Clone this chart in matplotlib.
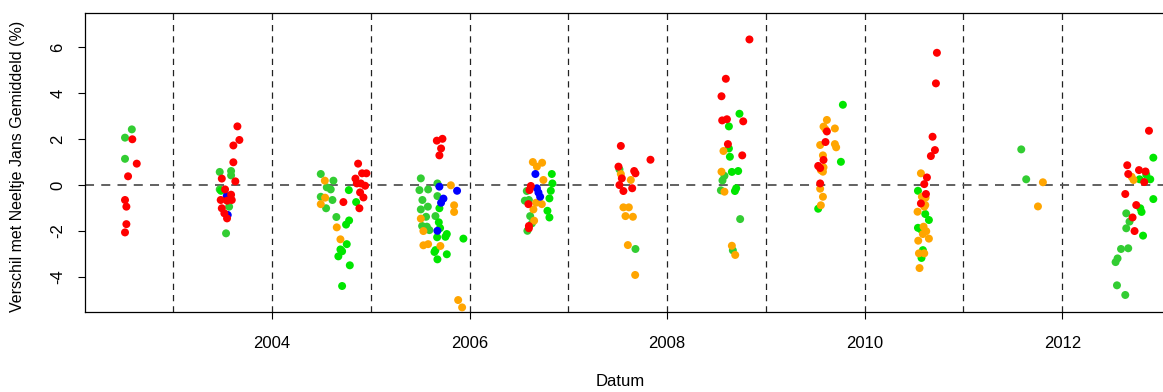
import matplotlib
matplotlib.use("Agg")
import matplotlib.pyplot as plt

plt.rcParams['font.family'] = ['Liberation Sans', 'DejaVu Sans']

# decimal year / difference in % per colour group
red_x = [2002.585, 2002.630, 2002.542, 2002.511, 2002.525, 2002.525, 2002.511,
         2003.649, 2003.669, 2003.608, 2003.608, 2003.491, 2003.628, 2003.524, 2003.585,
         2003.480, 2003.592, 2003.544, 2003.491, 2003.517, 2003.544,
         2004.871, 2004.911, 2004.955, 2004.844, 2004.858, 2004.898, 2004.942, 2004.891,
         2004.925, 2004.722, 2004.884,
         2005.668, 2005.725, 2005.711, 2005.694,
         2006.620, 2006.606, 2006.595, 2006.600, 2006.600,
         2007.531, 2007.831, 2007.507, 2007.666, 2007.679, 2007.541, 2007.517, 2007.646, 2007.557,
         2008.833, 2008.594, 2008.550, 2008.557, 2008.605, 2008.770, 2008.615, 2008.760,
         2009.617, 2009.603, 2009.583, 2009.529, 2009.549, 2009.549,
         2010.731, 2010.721, 2010.687, 2010.711, 2010.670, 2010.630, 2010.603, 2010.620, 2010.569,
         2012.878, 2012.658, 2012.668, 2012.777, 2012.843, 2012.830, 2012.638, 2012.749,
         2012.712, 2012.732]
red_y = [1.99, 0.93, 0.38, -0.65, -0.94, -1.70, -2.06,
         2.55, 1.96, 1.72, 0.99, 0.28, 0.16, -0.19, -0.42, -0.65, -0.65, -0.68, -1.01, -1.23, -1.45,
         0.93, 0.51, 0.51, 0.28, 0.07, 0.07, -0.03, -0.32, -0.54, -0.74, -1.01,
         1.93, 2.01, 1.59, 1.29,
         -0.04, -0.22, -0.83, -1.78, -1.88,
         1.70, 1.10, 0.80, 0.61, 0.51, 0.29, 0.00, -0.14, -0.26,
         6.33, 4.62, 3.86, 2.81, 2.86, 2.77, 1.78, 1.29,
         2.33, 1.87, 1.09, 0.83, 0.74, 0.07,
         5.75, 4.42, 2.10, 1.52, 1.26, 0.33, 0.04, -0.39, -0.80,
         2.36, 0.86, 0.48, 0.65, 0.59, 0.13, -0.39, -0.87, -1.41, -2.00]

orange_x = [2004.534, 2004.537, 2004.493, 2004.655, 2004.692,
            2005.810, 2005.843, 2005.843, 2005.506, 2005.532, 2005.532, 2005.580, 2005.704,
            2005.884, 2005.924,
            2006.640, 2006.681, 2006.734, 2006.747, 2006.673, 2006.731, 2006.646, 2006.653,
            2007.531, 2007.632, 2007.557, 2007.612, 2007.578, 2007.653, 2007.602, 2007.676,
            2008.570, 2008.550, 2008.580, 2008.655, 2008.689,
            2009.617, 2009.583, 2009.603, 2009.698, 2009.549, 2009.698, 2009.711, 2009.577,
            2009.583, 2009.577, 2009.556, 2009.549, 2009.577, 2009.556,
            2010.569, 2010.579, 2010.616, 2010.613, 2010.603, 2010.535, 2010.596, 2010.623,
            2010.589, 2010.650, 2010.542, 2010.549, 2010.603, 2010.555,
            2011.804, 2011.754,
            2012.702, 2012.722]
orange_y = [0.19, -0.55, -0.83, -1.84, -2.36,
            -0.01, -0.88, -1.17, -1.46, -2.00, -2.62, -2.57, -2.65, -5.00, -5.32,
            1.00, 0.80, 0.97, 0.22, -0.77, -0.83, -1.06, -1.55,
            0.48, 0.22, -0.97, -0.97, -1.35, -1.38, -2.61, -3.91,
            1.48, 0.58, -0.29, -2.64, -3.04,
            2.83, 2.54, 2.42, 2.46, 1.74, 1.78, 1.64, 1.29, 0.77, 0.58, 0.65, -0.16, -0.51, -0.88,
            0.51, -0.51, -0.55, -0.87, -0.94, -1.16, -1.81, -2.01, -2.13, -2.33, -2.42, -2.97,
            -2.97, -3.61,
            0.12, -0.93,
            0.36, 0.22]

# "green" (bright)
green_x = [2003.483,
           2004.777, 2004.851, 2004.780, 2004.749, 2004.756, 2004.692, 2004.709, 2004.671,
           2004.787, 2004.709,
           2005.694, 2005.688, 2005.701, 2005.769, 2005.755, 2005.671, 2005.937, 2005.654,
           2005.644, 2005.769, 2005.674,
           2006.832, 2006.838, 2006.822, 2006.808, 2006.788, 2006.808,
           2008.732, 2008.625, 2008.625, 2008.635, 2008.655, 2008.719, 2008.699, 2008.686,
           2009.779, 2009.759, 2009.529,
           2010.539, 2010.613, 2010.650, 2010.539, 2010.569, 2010.589, 2010.569, 2010.575,
           2012.922, 2012.851, 2012.891, 2012.783, 2012.922, 2012.790, 2012.803, 2012.818]
green_y = [-0.25,
           -0.22, -0.74, -1.54, -1.72, -2.57, -2.80, -2.88, -3.10, -3.49, -4.39,
           -1.01, -1.62, -1.87, -2.13, -2.25, -2.27, -2.33, -2.83, -2.91, -3.01, -3.23,
           0.48, 0.07, -0.25, -0.58, -1.12, -1.41,
           3.10, 2.55, 1.59, 1.23, 0.57, 0.61, -0.14, -0.26,
           3.49, 1.01, -1.03,
           -0.25, -1.26, -1.52, -1.86, -1.93, -2.83, -2.97, -3.17,
           1.19, 0.45, 0.25, 0.25, -0.61, -1.01, -1.17, -2.20]

# "limegreen"
lime_x = [2002.580, 2002.511, 2002.511,
          2003.470, 2003.585, 2003.585, 2003.470, 2003.565, 2003.534,
          2004.493, 2004.621, 2004.554, 2004.594, 2004.493, 2004.611, 2004.547, 2004.651,
          2005.506, 2005.674, 2005.492, 2005.580, 2005.674, 2005.522, 2005.577, 2005.506,
          2005.559, 2005.519, 2005.567, 2005.593, 2005.654,
          2006.579, 2006.559, 2006.600, 2006.613, 2006.630, 2006.585,
          2007.517, 2007.679,
          2008.580, 2008.560, 2008.544, 2008.739, 2008.665,
          2011.585, 2011.635,
          2012.648, 2012.681, 2012.648, 2012.595, 2012.668, 2012.560, 2012.540, 2012.554, 2012.638]
lime_y = [2.42, 2.06, 1.14,
          0.57, 0.61, 0.42, -0.19, -0.94, -2.10,
          0.48, 0.19, -0.10, -0.19, -0.51, -0.65, -1.01, -1.39,
          0.29, 0.07, -0.22, -0.19, -0.48, -0.65, -0.94, -1.06, -1.38, -1.78, -1.81, -1.96, -1.35,
          -0.26, -0.68, -0.65, -1.35, -1.67, -1.99,
          0.68, -2.78,
          0.40, 0.20, -0.23, -1.48, -2.84,
          1.55, 0.25,
          -1.23, -1.59, -1.88, -2.78, -2.75, -3.19, -3.35, -4.36, -4.78]

blue_x = [2003.541, 2003.551,
          2005.694, 2005.873, 2005.735, 2005.711, 2005.674,
          2006.666, 2006.681, 2006.697, 2006.714]
blue_y = [-0.48, -1.30,
          -0.07, -0.25, -0.59, -0.77, -1.99,
          0.48, -0.14, -0.33, -0.51]

year_lines = list(range(2003, 2013))
x_ticks = [2004, 2006, 2008, 2010, 2012]
y_ticks = [-4, -2, 0, 2, 4, 6]

fig = plt.figure(figsize=(11.63, 3.92), dpi=100)
ax = fig.add_axes([85 / 1163, 1 - 312 / 392, 1 - 85 / 1163, 299 / 392])

pt = 33
ax.scatter(lime_x, lime_y, s=pt, c="#32CD32", edgecolors="none", zorder=3)
ax.scatter(green_x, green_y, s=pt, c="#00E600", edgecolors="none", zorder=3)
ax.scatter(orange_x, orange_y, s=pt, c="#FFA500", edgecolors="none", zorder=3)
ax.scatter(blue_x, blue_y, s=pt, c="#0000FF", edgecolors="none", zorder=3)
ax.scatter(red_x, red_y, s=pt, c="#FF0000", edgecolors="none", zorder=3)

for yr in year_lines:
    ax.axvline(yr, color="#222222", lw=0.9, ls=(0, (5, 4)), zorder=1)
ax.axhline(0, color="#555555", lw=1.3, ls=(0, (5, 4)), zorder=1)

ax.set_xlim(2002.106, 2013.02)
ax.set_ylim(-5.52, 7.48)
ax.set_xticks(x_ticks)
ax.set_yticks(y_ticks)
ax.set_yticklabels([str(v) for v in y_ticks], rotation=90, va="center")
ax.tick_params(axis="both", direction="out", length=5, width=0.8, labelsize=12)
ax.tick_params(axis="x", pad=12)
ax.tick_params(axis="y", pad=9)
ax.spines["right"].set_visible(False)
for s in ["left", "top", "bottom"]:
    ax.spines[s].set_linewidth(0.9)

fig.text(18 / 1163, 1 - 166 / 392, "Verschil met Neeltje Jans Gemiddeld (%)",
         rotation=90, ha="center", va="center", fontsize=11.5)
fig.text(620 / 1163, 1 - 382 / 392, "Datum", ha="center", va="center", fontsize=12)

fig.savefig("out.png", dpi=100)
